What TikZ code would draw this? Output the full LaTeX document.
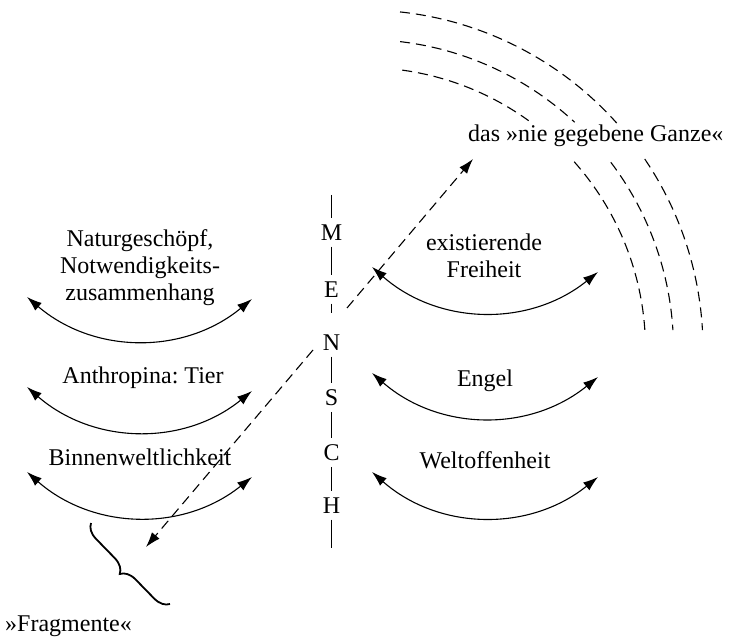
\documentclass[tikz,border=0pt]{standalone}
\usepackage{fontspec}
\setmainfont{Liberation Serif}
\usetikzlibrary{arrows.meta,decorations.pathreplacing}
\frenchspacing
\begin{document}
\begin{tikzpicture}[x=1pt,y=1pt,
  lbl/.style={font=\fontsize{24}{27}\selectfont, inner sep=0pt, align=center},
  letter/.style={font=\fontsize{24}{27}\selectfont, inner xsep=0pt, inner ysep=6pt},
  dbl/.style={{Latex[length=15pt,width=10pt]}-{Latex[length=15pt,width=10pt]}, line width=1.1pt},
  dashline/.style={line width=1.1pt, dash pattern=on 10pt off 6pt},
  dasharrow/.style={dashline, -{Latex[length=15pt,width=10pt]}},
  vline/.style={line width=1.1pt},
  bracestyle/.style={line width=1.8pt, decorate, decoration={brace, amplitude=15pt, aspect=0.5}}
]
\useasboundingbox (0,0) rectangle (730,641);

% MENSCH column
\coordinate (top) at (331.5,446);
\node[letter] (M) at (331.5,408.5) {M};
\node[letter] (E) at (331.5,351.5) {E};
\coordinate (ENend) at (331.5,328);
\node[letter] (N) at (331.5,298.5) {N};
\node[letter] (S) at (331.5,243.5) {S};
\node[letter] (C) at (331.5,188.5) {C};
\node[letter] (H) at (331.5,135.5) {H};
\coordinate (bot) at (331.5,93);
\draw[vline] (top) -- (M);
\draw[vline] (M) -- (E);
\draw[vline] (E) -- (ENend);
\draw[vline] (N) -- (S);
\draw[vline] (S) -- (C);
\draw[vline] (C) -- (H);
\draw[vline] (H) -- (bot);

% left labels
\node[lbl] (natur) at (140,373.1) {Naturgeschöpf,\\Notwendigkeits-\\zusammenhang};
\node[lbl, anchor=base] (anthro) at (143,258) {Anthropina: Tier};
\node[lbl, anchor=base] (binnen) at (140,176) {Binnenweltlichkeit};

% right labels
\node[lbl] (exist) at (484,384.8) {existierende\\Freiheit};
\node[lbl, anchor=base] (engel) at (485,254.3) {Engel};
\node[lbl, anchor=base] (welt) at (485,172.7) {Weltoffenheit};

% top label
\node[lbl, anchor=base west] (ganze) at (468,499) {das »nie gegebene Ganze«};
% bottom label
\node[lbl, anchor=base west] (frag) at (5,9.3) {»Fragmente«};

% left arcs
\coordinate (L1a) at (27,344);  \coordinate (L1b) at (252,342);
\coordinate (L2a) at (27,254);  \coordinate (L2b) at (252,250);
\coordinate (L3a) at (27,169);  \coordinate (L3b) at (252,164);
\draw[dbl] (L1a) to[bend right=40] (L1b);
\draw[dbl] (L2a) to[bend right=40] (L2b);
\draw[dbl] (L3a) to[bend right=40] (L3b);

% right arcs
\coordinate (R1a) at (372,374); \coordinate (R1b) at (598,369);
\coordinate (R2a) at (372,268); \coordinate (R2b) at (598,264);
\coordinate (R3a) at (372,169); \coordinate (R3b) at (598,164);
\draw[dbl] (R1a) to[bend right=40] (R1b);
\draw[dbl] (R2a) to[bend right=40] (R2b);
\draw[dbl] (R3a) to[bend right=40] (R3b);

% dashed concentric arcs
\coordinate (ctr) at (364,292);
\draw[dashline] ([shift={(83.9:339)}]ctr) arc[start angle=83.9, end angle=41.8, radius=339pt];
\draw[dashline] ([shift={(34.1:339)}]ctr) arc[start angle=34.1, end angle=3.2, radius=339pt];
\draw[dashline] ([shift={(83.3:309.5)}]ctr) arc[start angle=83.3, end angle=47.1, radius=309.5pt];
\draw[dashline] ([shift={(37.1:309.5)}]ctr) arc[start angle=37.1, end angle=3.5, radius=309.5pt];
\draw[dashline] ([shift={(82.2:281.5)}]ctr) arc[start angle=82.2, end angle=54.2, radius=281.5pt];
\draw[dashline] ([shift={(41.7:281.5)}]ctr) arc[start angle=41.7, end angle=3.9, radius=281.5pt];

% dashed arrows through N
\coordinate (dA) at (347,333);
\coordinate (ganzetip) at (473,482);
\coordinate (dB) at (313,291);
\coordinate (fragtip) at (146,94);
\draw[dasharrow] (dA) -- (ganzetip);
\draw[dasharrow] (dB) -- (fragtip);

% brace
\coordinate (brA) at (170,37);
\coordinate (brB) at (91,118);
\draw[bracestyle] (brA) -- (brB);

\end{tikzpicture}
\end{document}
